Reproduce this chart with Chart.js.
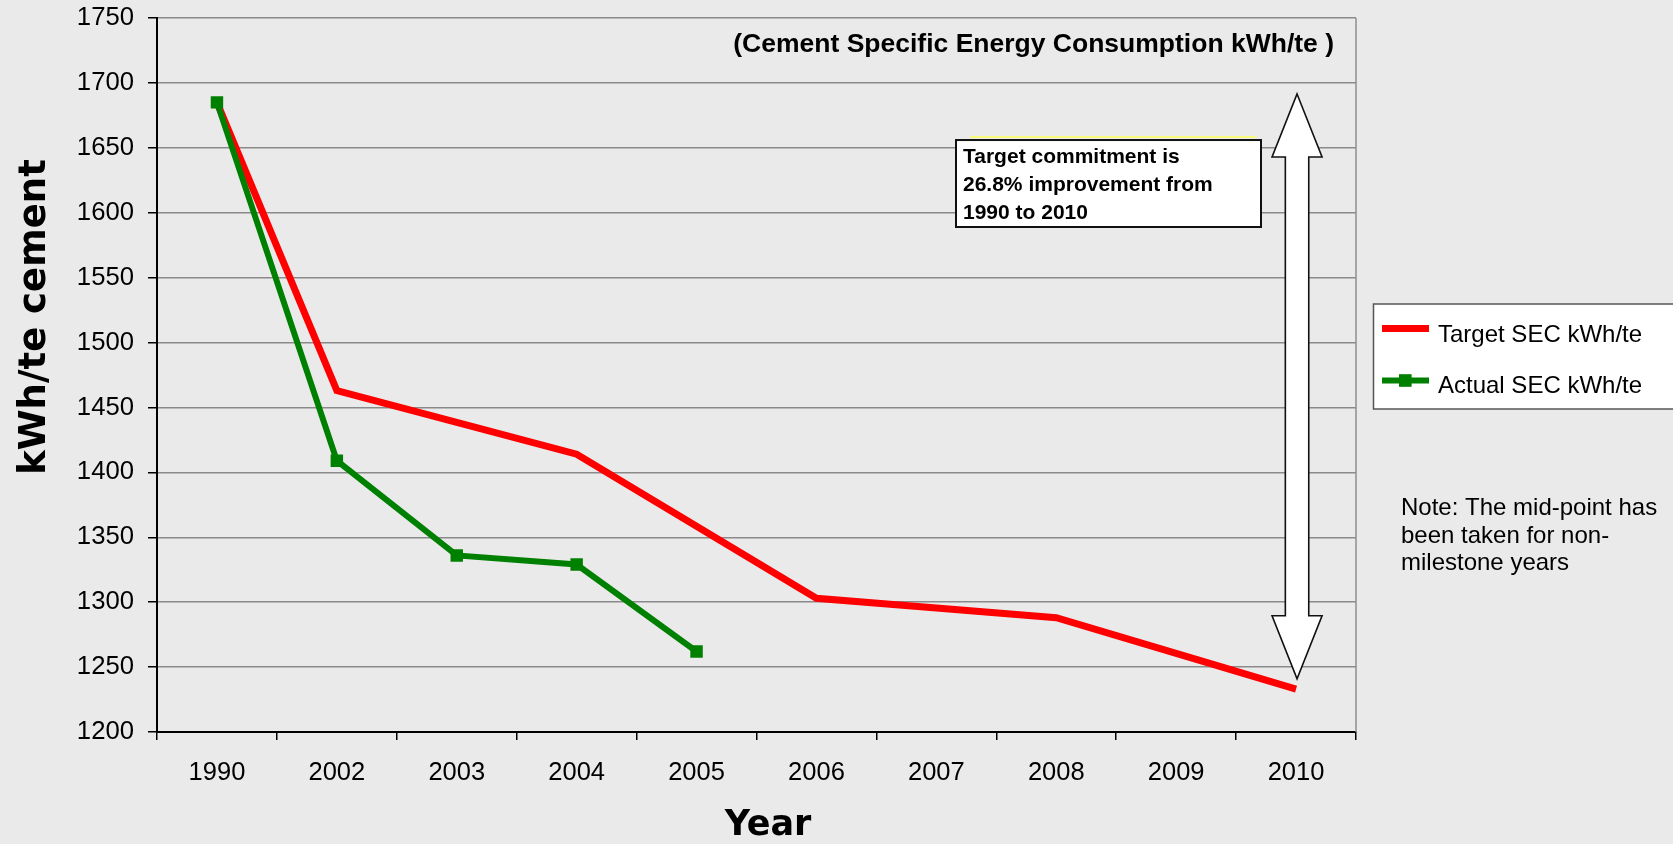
<!DOCTYPE html>
<html>
<head>
<meta charset="utf-8">
<script src="https://cdn.jsdelivr.net/npm/chart.js@4.4.1/dist/chart.umd.min.js"></script>
<style>
  html, body { margin: 0; padding: 0; background: #EAEAEA; overflow: hidden; }
  #wrap { width: 1673px; height: 844px; position: relative; }
  canvas { display: block; }
</style>
</head>
<body>
<div id="wrap"><canvas id="c" width="1673" height="844"></canvas></div>
<script>
// ---------- data ----------
const years = ['1990', '2002', '2003', '2004', '2005', '2006', '2007', '2008', '2009', '2010'];
const targetSEC = [1685, 1463, 1438.5, 1414, 1358.5, 1303, 1295.5, 1288, 1260.5, 1233];
const actualSEC = [1685, 1409, 1336, 1329, 1262, null, null, null, null, null];
const yMin = 1200;
const yMax = 1750;
const yStep = 50;
const seriesNames = ['Target SEC kWh/te', 'Actual SEC kWh/te'];
const chartTitle = '(Cement Specific Energy Consumption kWh/te )';
const xTitle = 'Year';
const yTitle = 'kWh/te cement';
const boxLines = ['Target commitment is', '26.8% improvement from', '1990 to 2010'];
const noteLines = ['Note: The mid-point has', 'been taken for non-', 'milestone years'];
const arrowFrom = 1691.5;   // value at the top arrow tip
const arrowTo = 1241;       // value at the bottom arrow tip
const arrowCategory = '2010';
const boxTopValue = 1656;
const boxBottomValue = 1589;

const FAM = "'Liberation Sans', Arial, Helvetica, sans-serif";
const TFAM = "'DejaVu Sans', Verdana, sans-serif";

const decorPlugin = {
  id: 'decor',
  beforeDraw(chart) {
    const ctx = chart.ctx;
    ctx.save();
    ctx.fillStyle = '#EAEAEA';
    ctx.fillRect(0, 0, chart.width, chart.height);
    ctx.restore();
  },
  beforeDatasetsDraw(chart) {
    const ctx = chart.ctx, a = chart.chartArea;
    ctx.save();
    ctx.strokeStyle = '#8e8e8e';
    ctx.lineWidth = 1.5;
    ctx.beginPath();
    ctx.moveTo(a.right, a.top);
    ctx.lineTo(a.right, a.bottom);
    ctx.stroke();
    ctx.restore();
  },
  afterDraw(chart) {
    const ctx = chart.ctx, a = chart.chartArea;
    const xs = chart.scales.x, ys = chart.scales.y;
    ctx.save();

    // chart title inside plot
    ctx.fillStyle = '#000';
    ctx.font = 'bold 26.5px ' + FAM;
    ctx.textAlign = 'right';
    ctx.textBaseline = 'alphabetic';
    ctx.fillText(chartTitle, 1334, 52);

    // annotation box
    const bTop = ys.getPixelForValue(boxTopValue);
    const bBot = ys.getPixelForValue(boxBottomValue);
    const bLeft = 956, bRight = 1261;
    ctx.strokeStyle = '#ffff55';
    ctx.lineWidth = 1.5;
    ctx.beginPath();
    ctx.moveTo(970, bTop - 3);
    ctx.lineTo(1256, bTop - 3);
    ctx.stroke();
    ctx.fillStyle = '#fff';
    ctx.fillRect(bLeft, bTop, bRight - bLeft, bBot - bTop);
    ctx.strokeStyle = '#111';
    ctx.lineWidth = 2;
    ctx.strokeRect(bLeft, bTop, bRight - bLeft, bBot - bTop);
    ctx.fillStyle = '#000';
    ctx.font = 'bold 21px ' + FAM;
    ctx.textAlign = 'left';
    boxLines.forEach((t, i) => ctx.fillText(t, bLeft + 7, bTop + 23 + i * 28));

    // double-headed arrow
    const ax = xs.getPixelForValue(years.indexOf(arrowCategory)) + 1;
    const yTop = ys.getPixelForValue(arrowFrom);
    const yBot = ys.getPixelForValue(arrowTo);
    const headL = 63, headW = 25, shaftW = 11.7;
    ctx.beginPath();
    ctx.moveTo(ax, yTop);
    ctx.lineTo(ax + headW, yTop + headL);
    ctx.lineTo(ax + shaftW, yTop + headL);
    ctx.lineTo(ax + shaftW, yBot - headL);
    ctx.lineTo(ax + headW, yBot - headL);
    ctx.lineTo(ax, yBot);
    ctx.lineTo(ax - headW, yBot - headL);
    ctx.lineTo(ax - shaftW, yBot - headL);
    ctx.lineTo(ax - shaftW, yTop + headL);
    ctx.lineTo(ax - headW, yTop + headL);
    ctx.closePath();
    ctx.fillStyle = '#fff';
    ctx.fill();
    ctx.strokeStyle = '#111';
    ctx.lineWidth = 1.6;
    ctx.lineJoin = 'miter';
    ctx.stroke();

    // axis titles
    ctx.fillStyle = '#000';
    ctx.font = 'bold 37px ' + TFAM;
    ctx.textAlign = 'center';
    ctx.textBaseline = 'alphabetic';
    ctx.save();
    ctx.translate(45, 317);
    ctx.rotate(-Math.PI / 2);
    ctx.fillText(yTitle, 0, 0);
    ctx.restore();
    ctx.font = 'bold 35px ' + TFAM;
    ctx.fillText(xTitle, 768, 835);

    // legend
    const lx = 1373.5, ly = 304, lw = 400, lh = 105;
    ctx.fillStyle = '#fff';
    ctx.fillRect(lx, ly, lw, lh);
    ctx.strokeStyle = '#555';
    ctx.lineWidth = 1.5;
    ctx.strokeRect(lx, ly, lw, lh);
    const items = [
      { ds: chart.data.datasets[0], y: 328.5, base: 342.3 },
      { ds: chart.data.datasets[1], y: 380.5, base: 393.3 }
    ];
    ctx.textAlign = 'left';
    ctx.font = '24px ' + FAM;
    items.forEach(it => {
      ctx.strokeStyle = it.ds.borderColor;
      ctx.lineWidth = it.ds.borderWidth;
      ctx.lineCap = 'butt';
      ctx.beginPath();
      ctx.moveTo(1382, it.y);
      ctx.lineTo(1429, it.y);
      ctx.stroke();
      if (it.ds.pointRadius > 0) {
        ctx.fillStyle = it.ds.backgroundColor;
        ctx.fillRect(1399, it.y - 6.3, 12.6, 12.6);
      }
      ctx.fillStyle = '#000';
      ctx.fillText(it.ds.label, 1438, it.base);
    });

    // note
    ctx.font = '24px ' + FAM;
    ctx.fillStyle = '#000';
    noteLines.forEach((t, i) => ctx.fillText(t, 1401, 515 + i * 27.5));

    ctx.restore();
  }
};

new Chart(document.getElementById('c'), {
  type: 'line',
  data: {
    labels: years,
    datasets: [
      {
        label: seriesNames[0],
        data: targetSEC,
        borderColor: '#FF0000',
        backgroundColor: '#FF0000',
        borderWidth: 7,
        pointRadius: 0,
        pointHoverRadius: 0,
        tension: 0,
        fill: false,
        order: 1
      },
      {
        label: seriesNames[1],
        data: actualSEC,
        borderColor: '#008000',
        backgroundColor: '#008000',
        borderWidth: 6,
        pointStyle: 'rect',
        pointRadius: 8.8,
        pointHoverRadius: 8.8,
        pointBorderWidth: 0,
        pointBackgroundColor: '#008000',
        tension: 0,
        fill: false,
        spanGaps: false,
        order: 0
      }
    ]
  },
  options: {
    responsive: false,
    devicePixelRatio: 1,
    animation: false,
    layout: { padding: { left: 0, top: 18, right: 317, bottom: 0 } },
    plugins: {
      legend: { display: false },
      title: { display: false },
      tooltip: { enabled: false }
    },
    scales: {
      x: {
        type: 'category',
        offset: true,
        ticks: { color: '#000', font: { size: 25.5, family: FAM }, padding: 18, maxRotation: 0, autoSkip: false },
        grid: { offset: true, drawOnChartArea: false, drawTicks: true, tickLength: 8, tickColor: '#000', lineWidth: 1.5 },
        border: { color: '#000', width: 2 },
        afterFit(s) { s.height = 112; s.paddingLeft = 0; s.paddingRight = 0; }
      },
      y: {
        min: yMin,
        max: yMax,
        ticks: {
          stepSize: yStep, color: '#000', font: { size: 25.7, family: FAM }, padding: 14,
          callback: (v) => String(v)
        },
        grid: { color: '#8a8a8a', lineWidth: 1.5, tickLength: 9, tickColor: '#000', drawTicks: true },
        border: { color: '#000', width: 2 },
        afterFit(s) { s.width = 157; s.paddingTop = 0; s.paddingBottom = 0; }
      }
    }
  },
  plugins: [decorPlugin]
});
</script>
</body>
</html>
